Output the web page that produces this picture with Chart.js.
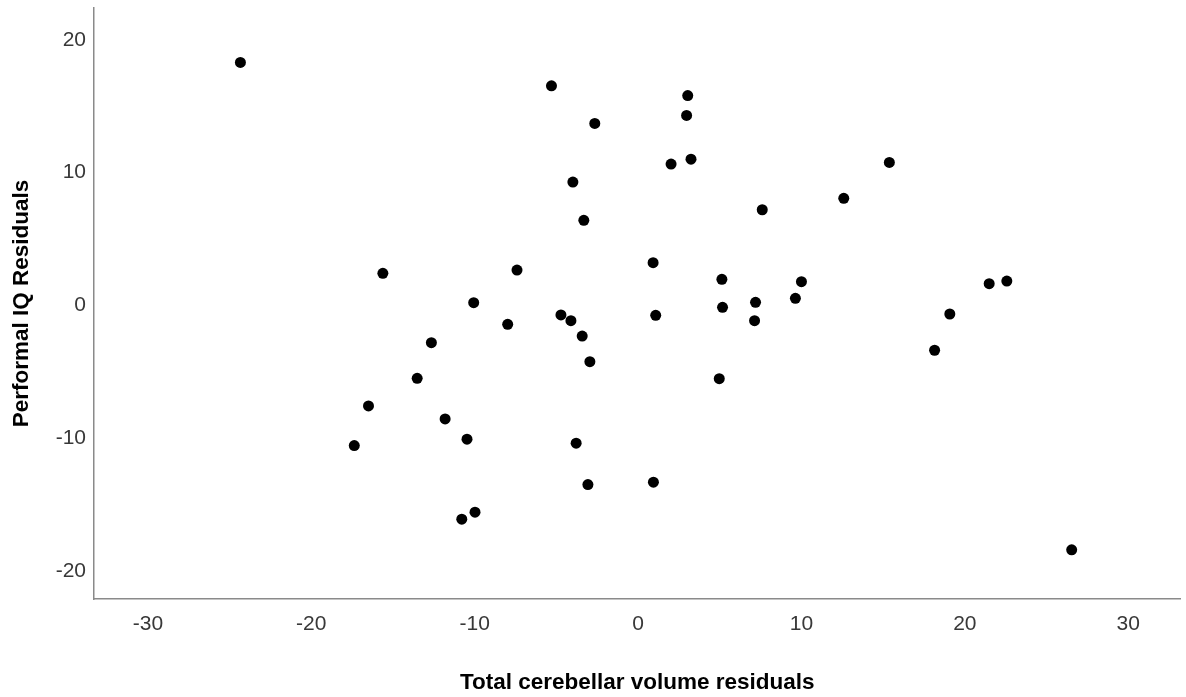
<!DOCTYPE html>
<html>
<head>
<meta charset="utf-8">
<script src="https://cdn.jsdelivr.net/npm/chart.js@4/dist/chart.umd.min.js"></script>
<style>
  body { margin: 0; background: #fff; }
  #wrap { width: 1186px; height: 697px; }
</style>
</head>
<body>
<div id="wrap"><canvas id="scatter" width="1186" height="697"></canvas></div>
<script>
// residuals
const volumeResiduals = [
  -24.34, -15.62, -16.50, -17.37, -5.30, -2.65, 3.04, 2.97, 3.24, 2.02,
  -3.99, -3.32, 7.60, -7.41, 0.92, 5.13, -10.06, 5.17, 7.19, 9.63,
  10.00, -4.72, -4.11, 1.08, -7.98, 7.13, -12.65, -3.42, -2.95, -13.52,
  4.97, -11.81, -10.47, -3.79, -3.07, 0.94, -10.79, -9.98, 15.38, 12.59,
  21.49, 22.57, 19.08, 18.15, 26.54
];
const iqResiduals = [
  18.30, 2.42, -7.56, -10.55, 16.54, 13.71, 15.81, 14.31, 11.02, 10.65,
  9.29, 6.41, 7.21, 2.67, 3.22, 1.97, 0.21, -0.14, 0.24, 0.54,
  1.79, -0.71, -1.14, -0.74, -1.42, -1.14, -2.80, -2.30, -4.23, -5.48,
  -5.51, -8.54, -10.07, -10.37, -13.48, -13.30, -16.09, -15.56, 10.77, 8.07,
  1.64, 1.84, -0.64, -3.37, -18.40
];
const xTicks = [-30, -20, -10, 0, 10, 20, 30];
const yTicks = [-20, -10, 0, 10, 20];

const points = volumeResiduals.map((x, i) => ({x: x, y: iqResiduals[i]}));

const tickFont = {family: "'Liberation Sans', Arial, sans-serif", size: 21};
const titleFont = {family: "'Liberation Sans', Arial, sans-serif", size: 22.5, weight: 'bold'};
const axisLine = {display: true, color: '#8a8a8a', width: 1.5};

new Chart(document.getElementById('scatter'), {
  type: 'scatter',
  data: {
    datasets: [{
      data: points,
      backgroundColor: '#000',
      borderWidth: 0,
      pointRadius: 5.5,
      pointHoverRadius: 5.5
    }]
  },
  options: {
    responsive: false,
    animation: false,
    layout: {padding: {top: 8, right: 1, left: 0, bottom: 0}},
    plugins: {legend: {display: false}, tooltip: {enabled: false}},
    scales: {
      x: {
        type: 'linear',
        min: -33.3,
        max: 33.2,
        grid: {display: false, drawTicks: false},
        border: axisLine,
        afterBuildTicks: (s) => { s.ticks = xTicks.map(v => ({value: v})); },
        afterFit: (s) => { s.height = 98; s.paddingLeft = 0; s.paddingRight = 0; },
        ticks: {color: '#383838', font: tickFont, padding: 13},
        title: {
          display: true,
          text: 'Total cerebellar volume residuals',
          color: '#000',
          font: titleFont,
          padding: {top: 0, bottom: 1}
        }
      },
      y: {
        type: 'linear',
        min: -22.1,
        max: 22.4,
        grid: {display: false, drawTicks: false},
        border: axisLine,
        afterBuildTicks: (s) => { s.ticks = yTicks.map(v => ({value: v})); },
        afterFit: (s) => { s.width = 94; s.paddingTop = 0; s.paddingBottom = 0; },
        ticks: {color: '#383838', font: tickFont, padding: 8},
        title: {
          display: true,
          text: 'Performal IQ Residuals',
          color: '#000',
          font: titleFont,
          padding: {top: 8, bottom: 0}
        }
      }
    }
  }
});
</script>
</body>
</html>
